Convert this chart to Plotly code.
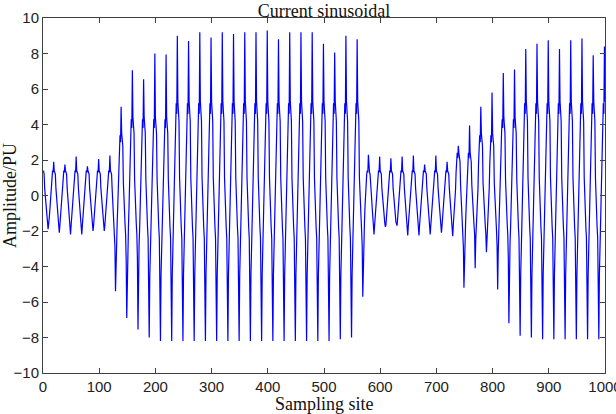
import plotly.graph_objects as go

cycles = [
    [1.4, 1.2, 0.4, -0.1, -0.3, -0.8, -1.4, -1.5, -1.9, -1.7, -1.3, -0.9, -0.4, 0.2, 0.8, 1.2, 1.4, 1.3, 1.9, 1.4],
    [1.3, 1.2, 0.4, -0.1, -0.3, -0.8, -1.4, -1.5, -2.1, -1.7, -1.3, -0.9, -0.4, 0.2, 0.8, 1.2, 1.4, 1.3, 1.75, 1.4],
    [1.3, 1.2, 0.4, -0.1, -0.3, -0.8, -1.4, -1.5, -2.2, -1.7, -1.3, -0.9, -0.4, 0.2, 0.8, 1.2, 1.4, 1.3, 2.2, 1.4],
    [1.3, 1.2, 0.4, -0.1, -0.3, -0.8, -1.4, -1.5, -2.2, -1.7, -1.3, -0.9, -0.4, 0.2, 0.8, 1.2, 1.4, 1.3, 1.65, 1.4],
    [1.3, 1.2, 0.4, -0.1, -0.3, -0.8, -1.4, -1.5, -2.0, -1.7, -1.3, -0.9, -0.4, 0.2, 0.8, 1.2, 1.4, 1.3, 2.05, 1.4],
    [1.3, 1.2, 0.4, -0.1, -0.3, -0.8, -1.4, -1.5, -2.0, -1.7, -1.3, -0.9, -0.4, 0.2, 0.8, 1.2, 1.4, 1.3, 2.25, 1.4],
    [1.3, 1.2, 0.4, -0.3, -0.8, -1.3, -2.0, -2.9, -5.4, -3.2, -2.3, -1.5, -0.6, 0.4, 1.8, 2.8, 3.4, 3.0, 5.0, 3.5],
    [3.1, 2.8, 0.7, -0.4, -1.0, -1.6, -2.2, -3.6, -6.9, -3.9, -2.7, -1.8, -0.7, 0.5, 2.4, 3.6, 4.3, 3.8, 7.05, 4.4],
    [3.9, 3.5, 0.9, -0.4, -1.0, -1.6, -2.2, -3.6, -7.55, -3.9, -2.7, -1.8, -0.7, 0.5, 2.4, 3.6, 4.3, 3.8, 6.55, 4.4],
    [3.9, 3.5, 0.9, -0.5, -1.2, -1.8, -2.4, -4.2, -8.0, -4.5, -3.0, -2.0, -0.8, 0.5, 2.4, 3.6, 4.3, 3.8, 8.0, 4.4],
    [3.9, 3.5, 0.9, -0.5, -1.2, -1.8, -2.4, -4.2, -8.2, -4.5, -3.0, -2.0, -0.8, 0.5, 2.4, 3.6, 4.3, 3.8, 7.95, 4.4],
    [3.9, 3.5, 0.9, -0.5, -1.2, -1.8, -2.4, -4.2, -8.2, -4.5, -3.0, -2.0, -0.8, 0.5, 3.0, 4.4, 5.2, 4.6, 9.0, 5.3],
    [4.6, 4.2, 1.0, -0.5, -1.2, -1.8, -2.4, -4.2, -8.2, -4.5, -3.0, -2.0, -0.8, 0.5, 3.0, 4.4, 5.2, 4.6, 8.7, 5.3],
    [4.6, 4.2, 1.0, -0.5, -1.2, -1.8, -2.4, -4.2, -8.2, -4.5, -3.0, -2.0, -0.8, 0.5, 3.0, 4.4, 5.2, 4.6, 9.2, 5.3],
    [4.6, 4.2, 1.0, -0.5, -1.2, -1.8, -2.4, -4.2, -8.2, -4.5, -3.0, -2.0, -0.8, 0.5, 3.0, 4.4, 5.2, 4.6, 8.9, 5.3],
    [4.6, 4.2, 1.0, -0.5, -1.2, -1.8, -2.4, -4.2, -8.2, -4.5, -3.0, -2.0, -0.8, 0.5, 3.0, 4.4, 5.2, 4.6, 9.2, 5.3],
    [4.6, 4.2, 1.0, -0.5, -1.2, -1.8, -2.4, -4.2, -8.2, -4.5, -3.0, -2.0, -0.8, 0.5, 3.0, 4.4, 5.2, 4.6, 9.1, 5.3],
    [4.6, 4.2, 1.0, -0.5, -1.2, -1.8, -2.4, -4.2, -8.2, -4.5, -3.0, -2.0, -0.8, 0.5, 3.0, 4.4, 5.2, 4.6, 9.2, 5.3],
    [4.6, 4.2, 1.0, -0.5, -1.2, -1.8, -2.4, -4.2, -8.2, -4.5, -3.0, -2.0, -0.8, 0.5, 3.0, 4.4, 5.2, 4.6, 9.2, 5.3],
    [4.6, 4.2, 1.0, -0.5, -1.2, -1.8, -2.4, -4.2, -8.2, -4.5, -3.0, -2.0, -0.8, 0.5, 3.0, 4.4, 5.2, 4.6, 9.3, 5.3],
    [4.6, 4.2, 1.0, -0.5, -1.2, -1.8, -2.4, -4.2, -8.2, -4.5, -3.0, -2.0, -0.8, 0.5, 3.0, 4.4, 5.2, 4.6, 8.8, 5.3],
    [4.6, 4.2, 1.0, -0.5, -1.2, -1.8, -2.4, -4.2, -8.2, -4.5, -3.0, -2.0, -0.8, 0.5, 3.0, 4.4, 5.2, 4.6, 9.2, 5.3],
    [4.6, 4.2, 1.0, -0.5, -1.2, -1.8, -2.4, -4.2, -8.2, -4.5, -3.0, -2.0, -0.8, 0.5, 3.0, 4.4, 5.2, 4.6, 9.2, 5.3],
    [4.6, 4.2, 1.0, -0.5, -1.2, -1.8, -2.4, -4.2, -8.2, -4.5, -3.0, -2.0, -0.8, 0.5, 3.0, 4.4, 5.2, 4.6, 9.2, 5.3],
    [4.6, 4.2, 1.0, -0.5, -1.2, -1.8, -2.4, -4.2, -8.2, -4.5, -3.0, -2.0, -0.8, 0.5, 3.0, 4.4, 5.2, 4.6, 8.55, 5.3],
    [4.6, 4.2, 1.0, -0.5, -1.2, -1.8, -2.4, -4.2, -8.2, -4.5, -3.0, -2.0, -0.8, 0.5, 3.0, 4.4, 5.2, 4.6, 8.05, 5.3],
    [4.6, 4.2, 1.0, -0.5, -1.2, -1.8, -2.4, -4.2, -8.1, -4.5, -3.0, -2.0, -0.8, 0.5, 3.0, 4.4, 5.2, 4.6, 9.0, 5.3],
    [4.6, 4.2, 1.0, -0.5, -1.2, -1.8, -2.4, -4.2, -8.0, -4.5, -3.0, -2.0, -0.8, 0.5, 3.0, 4.4, 5.2, 4.6, 8.8, 5.3],
    [4.6, 4.2, 1.0, -0.3, -0.8, -1.3, -2.0, -2.9, -5.7, -3.2, -2.3, -1.5, -0.6, 0.2, 0.8, 1.2, 1.4, 1.3, 2.3, 1.4],
    [1.3, 1.2, 0.4, -0.1, -0.3, -0.8, -1.4, -1.5, -2.2, -1.7, -1.3, -0.9, -0.4, 0.2, 0.8, 1.2, 1.4, 1.3, 2.2, 1.4],
    [1.3, 1.2, 0.4, -0.1, -0.3, -0.8, -1.4, -1.5, -1.75, -1.7, -1.3, -0.9, -0.4, 0.2, 0.8, 1.2, 1.4, 1.3, 2.1, 1.4],
    [1.3, 1.2, 0.4, -0.1, -0.3, -0.8, -1.4, -1.5, -1.6, -1.7, -1.3, -0.9, -0.4, 0.2, 0.8, 1.2, 1.4, 1.3, 2.2, 1.4],
    [1.3, 1.2, 0.4, -0.1, -0.3, -0.8, -1.4, -1.5, -2.25, -1.7, -1.3, -0.9, -0.4, 0.2, 0.8, 1.2, 1.4, 1.3, 2.25, 1.4],
    [1.3, 1.2, 0.4, -0.1, -0.3, -0.8, -1.4, -1.5, -2.25, -1.7, -1.3, -0.9, -0.4, 0.2, 0.8, 1.2, 1.4, 1.3, 1.75, 1.4],
    [1.3, 1.2, 0.4, -0.1, -0.3, -0.8, -1.4, -1.5, -2.2, -1.7, -1.3, -0.9, -0.4, 0.2, 0.8, 1.2, 1.4, 1.3, 2.25, 1.4],
    [1.3, 1.2, 0.4, -0.1, -0.3, -0.8, -1.4, -1.5, -2.1, -1.7, -1.3, -0.9, -0.4, 0.2, 0.8, 1.2, 1.4, 1.3, 1.9, 1.4],
    [1.3, 1.2, 0.4, -0.1, -0.3, -0.8, -1.4, -1.5, -2.3, -1.7, -1.3, -0.9, -0.4, 0.3, 1.3, 2.0, 2.4, 2.1, 2.8, 2.4],
    [2.2, 1.9, 0.6, -0.3, -0.8, -1.3, -2.0, -2.9, -5.2, -3.2, -2.3, -1.5, -0.6, 0.3, 1.3, 2.0, 2.4, 2.1, 3.95, 2.4],
    [2.2, 1.9, 0.6, -0.2, -0.6, -1.1, -1.7, -2.2, -4.1, -2.5, -1.8, -1.3, -0.5, 0.4, 1.8, 2.8, 3.4, 3.0, 5.0, 3.5],
    [3.1, 2.8, 0.7, -0.2, -0.6, -1.1, -1.7, -2.2, -3.2, -2.5, -1.8, -1.3, -0.5, 0.4, 1.8, 2.8, 3.4, 3.0, 5.8, 3.5],
    [3.1, 2.8, 0.7, -0.3, -0.8, -1.3, -2.0, -2.9, -5.3, -3.2, -2.3, -1.5, -0.6, 0.5, 2.4, 3.6, 4.3, 3.8, 6.9, 4.4],
    [3.9, 3.5, 0.9, -0.4, -1.0, -1.6, -2.2, -3.6, -7.2, -3.9, -2.7, -1.8, -0.7, 0.5, 2.4, 3.6, 4.3, 3.8, 7.1, 4.4],
    [3.9, 3.5, 0.9, -0.5, -1.2, -1.8, -2.4, -4.2, -7.9, -4.5, -3.0, -2.0, -0.8, 0.5, 3.0, 4.4, 5.2, 4.6, 8.25, 5.3],
    [4.6, 4.2, 1.0, -0.5, -1.2, -1.8, -2.4, -4.2, -8.0, -4.5, -3.0, -2.0, -0.8, 0.5, 3.0, 4.4, 5.2, 4.6, 8.55, 5.3],
    [4.6, 4.2, 1.0, -0.5, -1.2, -1.8, -2.4, -4.2, -8.1, -4.5, -3.0, -2.0, -0.8, 0.5, 3.0, 4.4, 5.2, 4.6, 8.75, 5.3],
    [4.6, 4.2, 1.0, -0.5, -1.2, -1.8, -2.4, -4.2, -8.1, -4.5, -3.0, -2.0, -0.8, 0.5, 3.0, 4.4, 5.2, 4.6, 8.25, 5.3],
    [4.6, 4.2, 1.0, -0.5, -1.2, -1.8, -2.4, -4.2, -8.1, -4.5, -3.0, -2.0, -0.8, 0.5, 3.0, 4.4, 5.2, 4.6, 8.75, 5.3],
    [4.6, 4.2, 1.0, -0.5, -1.2, -1.8, -2.4, -4.2, -8.1, -4.5, -3.0, -2.0, -0.8, 0.5, 3.0, 4.4, 5.2, 4.6, 8.85, 5.3],
    [4.6, 4.2, 1.0, -0.5, -1.2, -1.8, -2.4, -4.2, -8.1, -4.5, -3.0, -2.0, -0.8, 0.5, 3.0, 4.4, 5.2, 4.6, 7.9, 5.3],
    [4.6, 4.2, 1.0, -0.5, -1.2, -1.8, -2.4, -4.2, -8.1, -4.5, -3.0, -2.0, -0.8, 0.5, 3.0, 4.4, 5.2, 4.6, 8.4, 5.3],
]

x_ticks = [0, 100, 200, 300, 400, 500, 600, 700, 800, 900, 1000]
y_ticks = [-10, -8, -6, -4, -2, 0, 2, 4, 6, 8, 10]

amplitude = [v for row in cycles for v in row]
samples = list(range(1, len(amplitude) + 1))

SERIF = "Liberation Serif, Times New Roman, serif"
SANS = "Liberation Sans, Arial, sans-serif"

fig = go.Figure()
fig.add_trace(go.Scatter(
    x=samples, y=amplitude, mode="lines",
    line=dict(color="rgb(0,0,255)", width=1.2),
    showlegend=False, hoverinfo="skip",
))

axis_common = dict(
    showline=True, linecolor="#404040", linewidth=1,
    mirror="ticks", ticks="inside", ticklen=5, tickcolor="#404040",
    showgrid=False, zeroline=False, automargin=False,
    ticklabeloverflow="allow",
    tickfont=dict(family=SANS, size=15, color="#222222"),
)

fig.update_layout(
    width=616, height=414,
    margin=dict(l=43, r=11, t=18, b=41),
    paper_bgcolor="white", plot_bgcolor="white",
    title=dict(
        text="Current sinusoidal",
        font=dict(family=SERIF, size=18, color="#111111"),
        x=0.5, xref="paper", xanchor="center",
        y=0.974, yref="container", yanchor="middle",
    ),
    xaxis=dict(range=[0, 1000], tickvals=x_ticks, **axis_common),
    yaxis=dict(
        range=[-10, 10], tickvals=y_ticks,
        title=dict(text="Amplitude/PU", standoff=0,
                   font=dict(family=SERIF, size=18, color="#111111")),
        **axis_common,
    ),
    annotations=[dict(
        text="Sampling site", xref="paper", yref="paper",
        x=0.5, y=-0.086, xanchor="center", yanchor="middle",
        showarrow=False, font=dict(family=SERIF, size=18, color="#111111"),
    )],
)

fig.write_html("out.html")
